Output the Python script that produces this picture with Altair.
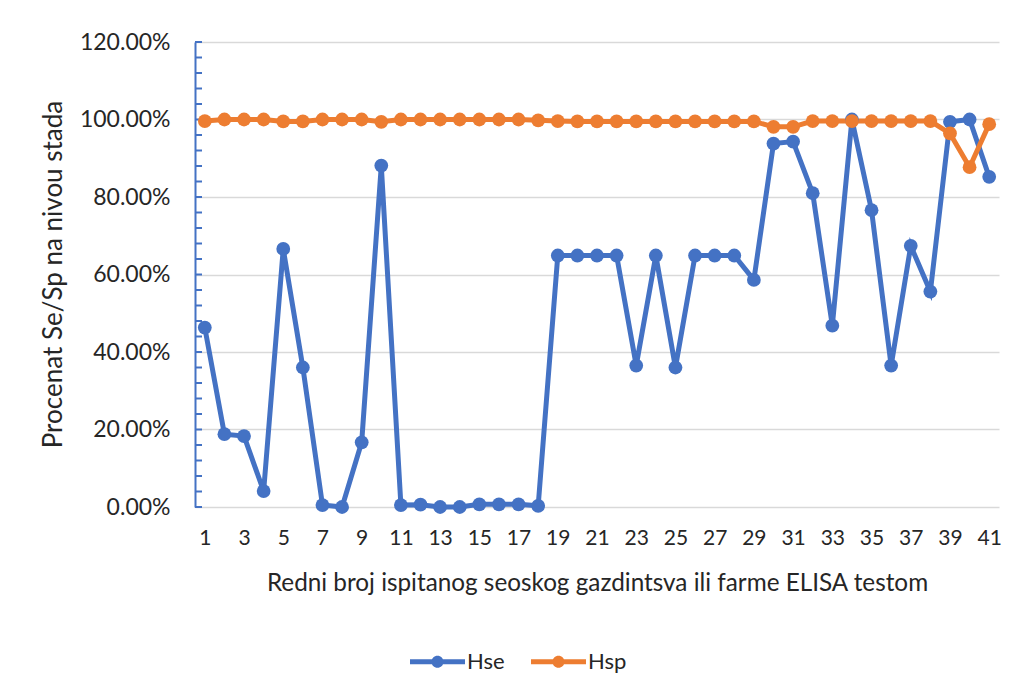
import altair as alt
import pandas as pd

# Serial number of each tested household / farm
farm_ids = list(range(1, 42))

# Herd-level sensitivity (Hse) and specificity (Hsp), in percent
hse = [46.3, 18.8, 18.3, 4.1, 66.6, 36.0, 0.5, 0.0, 16.7, 88.1,
       0.5, 0.6, 0.0, 0.0, 0.7, 0.7, 0.7, 0.3, 64.9, 64.9,
       64.9, 64.9, 36.5, 64.9, 36.0, 64.9, 64.9, 64.9, 58.6, 93.8,
       94.3, 81.0, 46.8, 100.0, 76.6, 36.5, 67.4, 55.6, 99.4, 100.0, 85.2]
hsp = [99.6, 100.0, 100.0, 100.0, 99.5, 99.5, 100.0, 100.0, 100.0, 99.4,
       100.0, 100.0, 100.0, 100.0, 100.0, 100.0, 100.0, 99.8, 99.6, 99.5,
       99.5, 99.5, 99.5, 99.5, 99.5, 99.5, 99.5, 99.5, 99.5, 98.1,
       98.1, 99.6, 99.6, 99.6, 99.6, 99.6, 99.6, 99.6, 96.4, 87.7, 98.8]

series_names = ["Hse", "Hsp"]
series_colors = ["#4472C4", "#ED7D31"]

x_tick_values = list(range(1, 42, 2))
y_tick_values = [0, 0.2, 0.4, 0.6, 0.8, 1.0, 1.2]
y_minor_ticks = [i * 0.04 for i in range(31)]

rows = []
for i, fid in enumerate(farm_ids):
    rows.append({"farm": fid, "series": "Hse", "value": hse[i] / 100})
    rows.append({"farm": fid, "series": "Hsp", "value": hsp[i] / 100})
df = pd.DataFrame(rows)
ticks_df = pd.DataFrame({"v": y_minor_ticks})

FONT = "Lato"
TEXT = "#262626"

x_enc = alt.X(
    "farm:Q",
    scale=alt.Scale(domain=[0.5, 41.5], nice=False, zero=False),
    axis=alt.Axis(
        values=x_tick_values, format="d", grid=False, domain=False, ticks=False,
        labelFont=FONT, labelFontSize=21, labelColor=TEXT, labelPadding=20,
        title="Redni broj ispitanog seoskog gazdintsva ili farme ELISA testom",
        titleFont=FONT, titleFontSize=24.3, titleFontWeight="normal", titleColor=TEXT,
        titleBaseline="middle", titleY=76,
    ),
)
y_scale = alt.Scale(domain=[0, 1.2], nice=False)
y_enc = alt.Y(
    "value:Q",
    scale=y_scale,
    axis=alt.Axis(
        values=y_tick_values, format=".2%", grid=True, gridColor="#D9D9D9", gridWidth=1.5,
        domain=True, domainColor="#4472C4", domainWidth=2, ticks=False,
        labelFont=FONT, labelFontSize=23, labelColor=TEXT, labelPadding=25,
        title="Procenat Se/Sp na nivou stada",
        titleFont=FONT, titleFontSize=26, titleFontWeight="normal", titleColor=TEXT,
        titleAngle=-90, titleBaseline="middle", titleX=-142, titleY=232,
    ),
)

# legend symbol: short line segment with a dot in the middle
legend_symbol = (
    "M-1,-0.09L1,-0.09L1,0.09L-1,0.09Z "
    "M-0.22,0A0.22,0.22 0 1,1 0.22,0A0.22,0.22 0 1,1 -0.22,0Z"
)

color_scale = alt.Scale(domain=series_names, range=series_colors)
legend = alt.Legend(
    title=None, orient="none", direction="horizontal", legendX=215, legendY=592,
    symbolType=legend_symbol, symbolSize=3025, symbolStrokeWidth=0,
    labelFont=FONT, labelFontSize=22, labelColor=TEXT, labelOffset=2,
    columnPadding=26,
)

lines = alt.Chart(df).mark_line(strokeWidth=5).encode(
    x=x_enc, y=y_enc, color=alt.Color("series:N", scale=color_scale, legend=legend)
)
dots = alt.Chart(df).mark_circle(size=190, opacity=1).encode(
    x="farm:Q", y="value:Q", color=alt.Color("series:N", scale=color_scale, legend=legend)
)

minor_ticks = alt.Chart(ticks_df).mark_rule(color="#4472C4", strokeWidth=2).encode(
    y=alt.Y("v:Q", scale=y_scale),
    x=alt.value(0),
    x2=alt.value(7),
)

chart = (
    alt.layer(minor_ticks, lines, dots)
    .properties(
        width=804,
        height=465,
        autosize=alt.AutoSizeParams(type="none"),
        padding={"left": 195, "top": 42, "right": 11, "bottom": 168},
        background="white",
    )
    .configure_view(stroke=None)
)

chart.save("out.html", embed_options={"renderer": "svg", "actions": False})
